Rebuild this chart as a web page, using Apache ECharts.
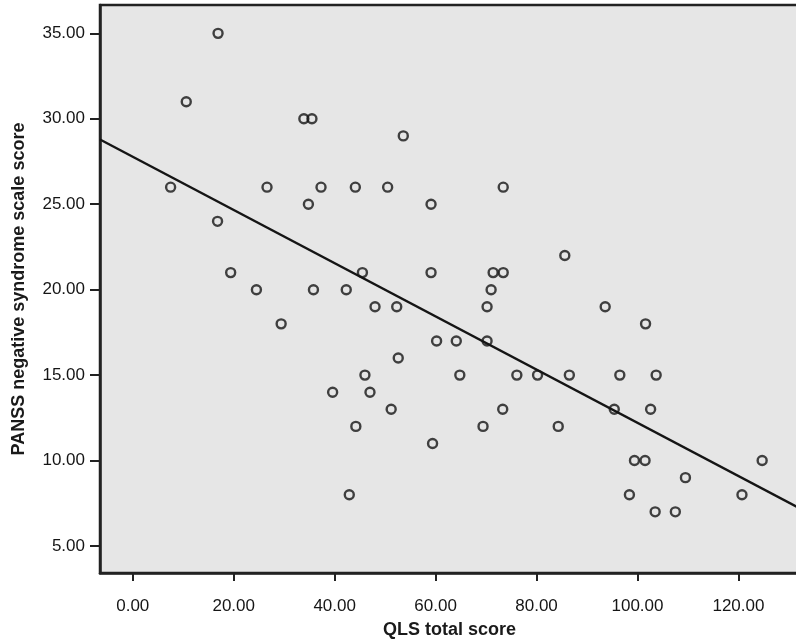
<!DOCTYPE html>
<html><head><meta charset="utf-8">
<script src="https://cdn.jsdelivr.net/npm/echarts@6/dist/echarts.min.js"></script>
<style>html,body{margin:0;padding:0;background:#ffffff}#c{width:796px;height:643px}</style>
</head><body><div id="c"></div>
<script>
// QLS total score (x) and PANSS negative syndrome scale score (y)
const qlsScore = [16.9,10.6,33.9,35.5,53.6,7.5,26.6,37.3,44.1,50.5,34.8,59.1,16.8,19.4,45.5,59.1,24.5,35.8,42.3,73.4,85.6,71.4,73.4,71.0,
  48.0,52.3,29.4,60.2,52.6,46.0,39.6,47.0,51.2,44.2,59.4,42.9,
  70.2,93.6,101.6,64.1,70.2,64.8,76.1,80.2,86.5,96.5,103.7,73.3,95.4,102.6,69.4,84.3,99.4,101.5,124.7,109.5,98.4,120.7,103.5,107.5];
const pannsNegative = [35,31,30,30,29,26,26,26,26,26,25,25,24,21,21,21,20,20,20,26,22,21,21,20,
  19,19,18,17,16,15,14,14,13,12,11,8,
  19,19,18,17,17,15,15,15,15,15,15,13,13,13,12,12,10,10,10,9,8,8,7,7];
const xTickValues = [0,20,40,60,80,100,120];
const yTickValues = [5,10,15,20,25,30,35];
const xTitle = 'QLS total score';
const yTitle = 'PANSS negative syndrome scale score';
// regression line: [intercept, slope]
const fitCoefficients = [27.78, -0.1557];

const xMin = -6.49, xMax = 132.0, yMin = 3.42, yMax = 36.66;

const fitLine = [[xMin, fitCoefficients[0]+fitCoefficients[1]*xMin],[xMax, fitCoefficients[0]+fitCoefficients[1]*xMax]];
const points = qlsScore.map((x,i)=>[x, pannsNegative[i]]);

const chart = echarts.init(document.getElementById('c'), null, {renderer:'canvas'});
const tickFont = {fontFamily:'Liberation Sans, Arial, sans-serif', fontSize:17, color:'#151515'};
chart.setOption({
  animation:false,
  backgroundColor:'#ffffff',
  grid:{left:100, top:5, right:-3, bottom:70, outerBoundsMode:'none', containLabel:false,
        show:true, backgroundColor:'#e6e6e6', borderColor:'#222', borderWidth:2.5},
  xAxis:{
    type:'value', min:xMin, max:xMax,
    name:xTitle, nameLocation:'middle', nameGap:48,
    nameTextStyle:{fontFamily:'Liberation Sans, Arial, sans-serif', fontSize:18, fontWeight:'bold', color:'#1a1a1a'},
    axisLine:{show:true, onZero:false, lineStyle:{color:'#222', width:2.5}},
    axisTick:{show:true, length:8, customValues:xTickValues, lineStyle:{color:'#222', width:2}},
    axisLabel:Object.assign({customValues:xTickValues, margin:25, formatter:v=>v.toFixed(2)}, tickFont),
    splitLine:{show:false}
  },
  yAxis:{
    type:'value', min:yMin, max:yMax,
    name:yTitle, nameLocation:'middle', nameGap:72, nameRotate:90,
    nameTextStyle:{fontFamily:'Liberation Sans, Arial, sans-serif', fontSize:18, fontWeight:'bold', color:'#1a1a1a'},
    axisLine:{show:true, onZero:false, lineStyle:{color:'#222', width:2.5}},
    axisTick:{show:true, length:10, customValues:yTickValues, lineStyle:{color:'#222', width:2}},
    axisLabel:Object.assign({customValues:yTickValues, margin:15, formatter:v=>v.toFixed(2)}, tickFont),
    splitLine:{show:false}
  },
  series:[
    {type:'line', data:fitLine, symbol:'none', lineStyle:{color:'#151515', width:2.4}, silent:true, z:2},
    {type:'scatter', data:points, symbol:'circle', symbolSize:9,
     itemStyle:{color:'rgba(0,0,0,0)', borderColor:'#151515', borderWidth:2.4}, z:3}
  ]
});
</script>
</body></html>
